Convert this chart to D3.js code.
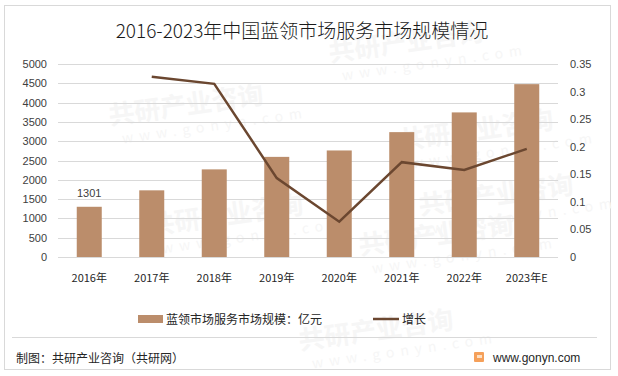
<!DOCTYPE html>
<html>
<head>
<meta charset="utf-8">
<script src="https://cdn.jsdelivr.net/npm/d3@7"></script>
<style>
  body { margin: 0; background: #fff; }
  text { font-family: "Noto Sans CJK SC", "Noto Sans", sans-serif; }
</style>
</head>
<body>
<div id="chart"></div>
<script>
// Data
const years = ["2016年", "2017年", "2018年", "2019年", "2020年", "2021年", "2022年", "2023年E"];
const scale = [1301, 1727, 2270, 2594, 2760, 3235, 3746, 4478];
const growth = [null, 0.327, 0.314, 0.143, 0.064, 0.172, 0.158, 0.196];
const leftTicks = [0, 500, 1000, 1500, 2000, 2500, 3000, 3500, 4000, 4500, 5000];
const rightTicks = [0, 0.05, 0.1, 0.15, 0.2, 0.25, 0.3, 0.35];

const W = 618, H = 376;
const margin = {top: 64, right: 60, bottom: 119, left: 58};
const width = W - margin.left - margin.right;
const height = H - margin.top - margin.bottom;

const barColor = "#bb8d6b";
const lineColor = "#6b4730";

const root = d3.select("#chart").append("svg")
  .attr("width", W).attr("height", H);

// Frame
root.append("rect")
  .attr("x", 4.5).attr("y", 5.5).attr("width", 606).attr("height", 364)
  .attr("fill", "#fff").attr("stroke", "#d9d9d9");

// Watermarks (very faint)
const marks = [[110, 125], [330, 62], [400, 150], [150, 235], [360, 255], [420, 215], [300, 350]];
marks.forEach(([mx, my]) => {
  const g = root.append("g").attr("transform", `translate(${mx},${my}) rotate(-8)`)
    .attr("fill", "#f6f6f6");
  g.append("text").attr("font-size", 26).attr("font-weight", "bold").text("共研产业咨询");
  g.append("text").attr("y", 20).attr("x", 10).attr("font-size", 14)
    .attr("letter-spacing", 6).text("www.gonyn.com");
});

// Title
root.append("text")
  .attr("x", 302).attr("y", 38)
  .attr("text-anchor", "middle")
  .attr("font-size", 19)
  .attr("font-weight", 300)
  .attr("fill", "#1a1a1a")
  .text("2016-2023年中国蓝领市场服务市场规模情况");

const svg = root.append("g")
  .attr("transform", `translate(${margin.left},${margin.top})`);

const x = d3.scaleBand().domain(years).range([0, width]).paddingInner(0.6).paddingOuter(0.3);
const y = d3.scaleLinear().domain([0, 5000]).range([height, 0]);
const y2 = d3.scaleLinear().domain([0, 0.35]).range([height, 0]);

// Gridlines
svg.append("g")
  .selectAll("line")
  .data(leftTicks)
  .join("line")
  .attr("x1", 0).attr("x2", width)
  .attr("y1", d => Math.round(y(d)) + 0.5).attr("y2", d => Math.round(y(d)) + 0.5)
  .attr("stroke", "#d9d9d9");

// Left axis
svg.append("g")
  .call(d3.axisLeft(y).tickValues(leftTicks).tickSize(0).tickPadding(11).tickFormat(d => String(d)))
  .call(g => g.select(".domain").remove())
  .selectAll("text")
  .style("font-family", "'Liberation Sans', Arial, sans-serif")
  .style("font-size", "11px")
  .style("fill", "#404040");

// Right axis
svg.append("g")
  .attr("transform", `translate(${width},0)`)
  .call(d3.axisRight(y2).tickValues(rightTicks).tickSize(0).tickPadding(12).tickFormat(d => String(+d.toFixed(2))))
  .call(g => g.select(".domain").remove())
  .selectAll("text")
  .style("font-family", "'Liberation Sans', Arial, sans-serif")
  .style("font-size", "11px")
  .style("fill", "#404040");

// Bottom axis
svg.append("g")
  .attr("transform", `translate(0,${height})`)
  .call(d3.axisBottom(x).tickSize(0).tickPadding(17))
  .call(g => g.select(".domain").remove())
  .selectAll("text")
  .style("font-size", "11px")
  .style("fill", "#262626");

// Bars
svg.append("g")
  .selectAll("rect")
  .data(scale)
  .join("rect")
  .attr("x", (d, i) => x(years[i]))
  .attr("y", d => y(d))
  .attr("width", x.bandwidth())
  .attr("height", d => height - y(d))
  .attr("fill", barColor);

// Data label on first bar
svg.append("text")
  .attr("x", x(years[0]) + x.bandwidth() / 2)
  .attr("y", y(scale[0]) - 10)
  .attr("text-anchor", "middle")
  .style("font-family", "'Liberation Sans', Arial, sans-serif")
  .style("font-size", "11px")
  .style("fill", "#404040")
  .text(scale[0]);

// Growth line
const line = d3.line()
  .defined(d => d.v != null)
  .x(d => x(d.k) + x.bandwidth() / 2)
  .y(d => y2(d.v));

svg.append("path")
  .datum(years.map((k, i) => ({k, v: growth[i]})))
  .attr("d", line)
  .attr("fill", "none")
  .attr("stroke", lineColor)
  .attr("stroke-width", 2.5);

// Legend
const legend = root.append("g").attr("transform", "translate(0,319)");
legend.append("rect")
  .attr("x", 138).attr("y", -4).attr("width", 25).attr("height", 8)
  .attr("fill", barColor);
legend.append("text")
  .attr("x", 166).attr("y", 5)
  .attr("font-size", 12).attr("fill", "#262626")
  .text("蓝领市场服务市场规模：亿元");
legend.append("line")
  .attr("x1", 373).attr("x2", 399).attr("y1", 0).attr("y2", 0)
  .attr("stroke", lineColor).attr("stroke-width", 2.5);
legend.append("text")
  .attr("x", 402).attr("y", 5)
  .attr("font-size", 12).attr("fill", "#262626")
  .text("增长");

// Footer
root.append("line")
  .attr("x1", 12).attr("x2", 597).attr("y1", 337.5).attr("y2", 337.5)
  .attr("stroke", "#d9d9d9");
root.append("text")
  .attr("x", 16).attr("y", 363)
  .attr("font-size", 12).attr("fill", "#262626")
  .text("制图：共研产业咨询（共研网）");
const logo = root.append("g").attr("transform", "translate(474,352)");
logo.append("rect").attr("width", 10).attr("height", 10).attr("rx", 1).attr("fill", "#f5a05a");
logo.append("rect").attr("x", 3).attr("y", 3).attr("width", 5).attr("height", 3).attr("fill", "#fde0c4");
root.append("text")
  .attr("x", 493).attr("y", 362)
  .style("font-family", "'Liberation Sans', Arial, sans-serif")
  .attr("font-size", 12).attr("fill", "#262626")
  .text("www.gonyn.com");
</script>
</body>
</html>
